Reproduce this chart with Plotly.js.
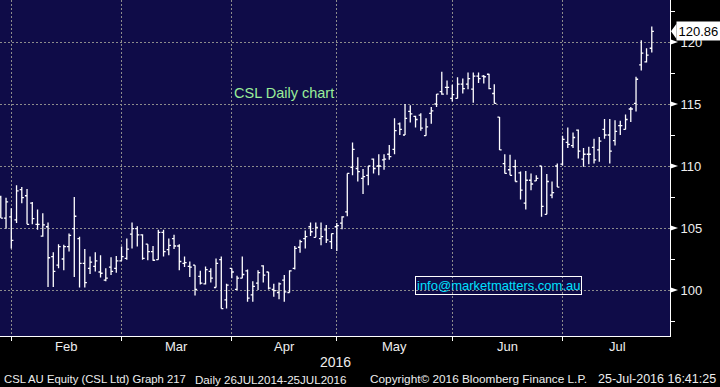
<!DOCTYPE html>
<html><head><meta charset="utf-8">
<script src="https://cdn.plot.ly/plotly-3.0.1.min.js"></script>
<style>html,body{margin:0;padding:0;background:#000;}#chart{width:720px;height:387px;}</style>
</head><body><div id="chart"></div>
<script>
// Daily OHLC bars, one entry per trading session (late Jan 2016 - 25 Jul 2016)
const openP  = [107.5,105.8,105.9,105.65,108.1,107.6,107.0,105.3,104.35,105.1,102.7,102.0,102.5,103.5,104.95,104.15,102.15,101.75,101.9,101.45,100.8,101.85,101.75,102.35,102.55,104.5,104.95,104.45,103.7,103.1,102.45,104.65,103.25,104.15,103.55,102.15,101.9,102.0,101.1,100.5,101.5,100.2,102.45,99.2,101.75,100.05,100.95,101.55,99.6,100.55,101.95,101.45,100.05,99.8,100.8,99.8,101.75,103.45,104.15,105.1,104.25,104.15,104.85,103.9,105.1,105.4,106.3,109.9,109.8,109.0,109.25,110.55,110.0,110.5,110.95,111.35,113.4,112.5,114.4,114.0,114.1,112.45,114.25,115.0,116.0,116.35,115.45,115.45,116.6,116.6,116.2,117.25,117.25,117.4,115.85,113.95,110.2,109.7,109.95,109.45,107.0,108.85,108.8,110.0,106.1,107.65,110.0,110.15,111.9,111.65,112.9,110.55,110.95,111.5,111.3,112.95,112.5,112.05,113.25,112.95,114.6,115.05,118.15,118.4,119.5];
const highP  = [107.6,107.45,106.6,108.45,108.3,108.15,107.1,106.5,106.2,105.45,103.05,103.7,103.65,104.55,107.5,104.3,103.3,102.7,103.05,102.8,101.75,102.65,102.75,103.5,104.15,105.45,105.15,104.5,103.7,103.55,104.85,104.85,104.15,104.45,103.7,102.7,102.3,102.0,101.55,101.9,101.75,102.55,102.7,100.5,101.75,101.15,102.7,101.65,100.7,101.6,102.0,101.45,100.5,100.6,101.2,101.6,103.55,104.05,104.8,105.45,105.45,105.45,105.25,104.55,105.4,105.95,109.4,111.9,110.7,109.75,110.0,110.6,110.95,110.95,111.7,113.85,113.5,115.0,114.9,114.05,114.25,113.85,114.75,115.8,117.6,116.9,116.55,117.15,117.05,117.55,117.55,117.55,117.35,117.45,116.6,113.95,110.95,110.9,110.5,109.55,109.6,109.4,109.25,110.0,109.35,108.75,110.2,112.45,113.1,112.7,112.95,111.45,111.55,112.2,112.35,113.8,113.8,113.7,113.65,114.15,114.75,117.2,120.15,119.5,121.25];
const lowP   = [105.8,104.95,103.35,105.4,107.0,105.3,105.3,104.85,104.3,100.25,100.25,101.75,101.6,103.1,101.05,100.2,100.2,101.3,101.5,101.0,100.7,101.2,101.4,102.35,102.45,103.35,103.5,102.45,102.4,102.35,102.45,102.7,102.8,103.3,101.6,101.85,101.05,99.55,100.45,100.45,100.6,100.2,98.5,98.5,100.95,100.0,100.95,99.05,99.05,100.0,100.6,100.05,99.45,99.25,99.05,99.8,101.65,103.0,103.35,104.35,104.25,103.6,103.8,103.3,103.15,104.9,105.95,109.25,108.75,107.75,108.45,109.4,109.25,109.7,110.5,110.95,112.5,112.5,113.5,113.1,112.85,112.45,113.4,114.75,115.75,115.75,115.2,115.45,115.85,116.2,115.1,116.7,116.65,116.2,115.05,111.3,109.4,109.25,108.75,107.3,106.5,108.05,108.8,105.9,106.1,107.4,108.3,110.05,111.45,111.45,110.6,109.95,110.15,110.2,110.35,112.2,110.2,111.65,112.5,112.95,113.55,114.4,117.7,118.35,119.15];
const closeP = [105.8,107.1,104.0,108.0,107.45,105.3,105.75,105.3,105.25,102.6,101.5,103.5,103.5,104.4,105.95,102.15,100.6,102.25,102.35,101.35,100.95,101.5,102.35,102.7,103.3,104.95,104.45,102.55,103.1,102.4,104.65,103.1,103.6,103.55,102.3,102.2,101.85,100.05,100.55,101.65,100.95,102.15,98.5,100.4,101.45,100.95,101.25,99.35,100.3,101.4,101.2,100.15,99.95,100.5,99.85,101.55,103.35,103.9,104.3,104.7,105.05,104.3,104.05,104.55,105.2,105.9,109.4,111.35,109.55,109.15,110.0,109.8,110.0,110.55,110.75,112.85,112.95,113.85,114.2,113.75,113.05,113.15,114.45,115.8,115.8,116.35,115.75,116.6,116.25,117.05,117.25,117.05,117.2,116.25,115.05,111.3,109.4,109.25,108.75,108.05,108.85,108.55,109.0,106.75,108.75,107.85,108.3,112.15,111.75,112.3,111.2,110.95,110.95,110.5,112.0,112.5,111.2,112.8,113.25,113.75,114.6,117.0,119.1,118.95,120.86];

const monthLabels = ['Feb','Mar','Apr','May','Jun','Jul'];
const monthStart  = [2, 23, 44, 64, 86, 107];   // session index of first trading day
const yTicks = [100, 105, 110, 115, 120];

const x = closeP.map((_, i) => i);
const nSessions = 128;
const font = 'Liberation Sans, Arial, sans-serif';
const txt = '#eeeeee';

const trace = {
  type: 'ohlc', x: x, open: openP, high: highP, low: lowP, close: closeP,
  increasing: {line: {color: '#ffffff', width: 1.3}},
  decreasing: {line: {color: '#ffffff', width: 1.3}},
  tickwidth: 0.4, hoverinfo: 'skip', showlegend: false
};

const monthMid = monthStart.map((s, i) => (s + (i + 1 < monthStart.length ? monthStart[i + 1] : nSessions)) / 2);
const annotations = monthLabels.map((m, i) => ({
  xref: 'x', yref: 'paper', x: monthMid[i], y: -0.03, yanchor: 'middle', xanchor: 'center',
  text: m, showarrow: false, font: {family: font, size: 13, color: txt}
}));
const last = closeP[closeP.length - 1];
annotations.push(
  {xref: 'paper', yref: 'paper', x: 0.5, y: -0.077, yanchor: 'middle', text: '2016', showarrow: false, font: {family: font, size: 14, color: txt}},
  {xref: 'paper', yref: 'paper', x: 2/670, y: -0.128, xanchor: 'left', yanchor: 'middle', text: 'CSL AU Equity (CSL Ltd) Graph 217', showarrow: false, font: {family: font, size: 11.3, color: txt}},
  {xref: 'paper', yref: 'paper', x: 193/670, y: -0.128, xanchor: 'left', yanchor: 'middle', text: 'Daily 26JUL2014-25JUL2016', showarrow: false, font: {family: font, size: 11.6, color: txt}},
  {xref: 'paper', yref: 'paper', x: 368/670, y: -0.128, xanchor: 'left', yanchor: 'middle', text: 'Copyright© 2016 Bloomberg Finance L.P.', showarrow: false, font: {family: font, size: 11.8, color: txt}},
  {xref: 'paper', yref: 'paper', x: 718/670, y: -0.128, xanchor: 'right', yanchor: 'middle', text: '25-Jul-2016 16:41:25', showarrow: false, font: {family: font, size: 12.5, color: txt}},
  {xref: 'paper', yref: 'paper', x: 284/670, y: 0.723, xanchor: 'center', yanchor: 'middle', text: 'CSL Daily chart', showarrow: false, font: {family: font, size: 14.5, color: '#99ee99'}},
  {xref: 'paper', yref: 'paper', x: 498/670, y: 0.150, xanchor: 'center', yanchor: 'middle', text: 'info@marketmatters.com.au', showarrow: false,
   font: {family: font, size: 13, color: '#00e0ff'}, bordercolor: '#ffffff', borderwidth: 1, borderpad: 1},
  {xref: 'paper', yref: 'y', x: 676/670, y: last, xanchor: 'left', yanchor: 'middle', text: last.toFixed(2), showarrow: false,
   font: {family: font, size: 13, color: '#000000'}, bgcolor: '#ffffff', borderpad: 1.5}
);

const shapes = yTicks.map(v => ({
  type: 'path', xref: 'paper', yref: 'y', fillcolor: '#ffffff', line: {width: 0},
  path: `M 1,${v - 0.22} L ${1 + 8/670},${v} L 1,${v + 0.22} Z`
}));
shapes.push({
  type: 'path', xref: 'paper', yref: 'y', fillcolor: '#ffffff', line: {width: 0},
  path: `M ${671/670},${last} L ${676.5/670},${last + 0.62} L ${676.5/670},${last - 0.62} Z`
});

const layout = {
  width: 720, height: 387,
  paper_bgcolor: '#000000', plot_bgcolor: '#0f0c48',
  margin: {l: 0, r: 50, t: 0, b: 51, pad: 0},
  showlegend: false,
  xaxis: {
    range: [-0.15, 127.47], tickmode: 'array', tickvals: monthStart, ticktext: monthStart.map(() => ''),
    showgrid: true, gridcolor: '#8c8c8c', griddash: '2px,2px', gridwidth: 1,
    ticks: 'outside', ticklen: 4, tickcolor: '#ffffff', tickwidth: 1,
    showline: true, linecolor: '#ffffff', linewidth: 1, zeroline: false,
    rangeslider: {visible: false}, fixedrange: true
  },
  yaxis: {
    side: 'right', range: [96.29, 123.39], tickmode: 'array', tickvals: yTicks,
    showgrid: true, gridcolor: '#8c8c8c', griddash: '2px,2px', gridwidth: 1,
    ticks: 'outside', ticklen: 7, tickcolor: 'rgba(0,0,0,0)',
    minor: {tickmode: 'array', tickvals: yTicks.map(v => v - 2.5).concat([yTicks[yTicks.length - 1] + 2.5]),
            ticks: 'outside', ticklen: 4, tickcolor: '#ffffff', showgrid: false},
    showline: true, linecolor: '#ffffff', linewidth: 1, zeroline: false,
    tickfont: {family: font, size: 13, color: txt}, fixedrange: true
  },
  annotations: annotations,
  shapes: shapes
};

Plotly.newPlot('chart', [trace], layout, {staticPlot: true, displayModeBar: false});
</script>
</body></html>
